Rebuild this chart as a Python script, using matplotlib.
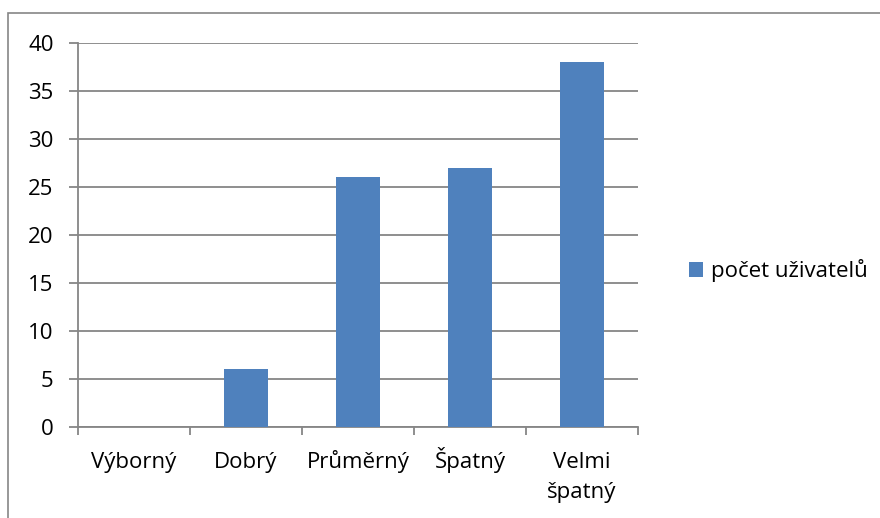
import matplotlib
matplotlib.use("Agg")
import matplotlib.pyplot as plt
from matplotlib.patches import Rectangle

categories = ["Výborný", "Dobrý", "Průměrný", "Špatný", "Velmi\nšpatný"]
values = [0, 6, 26, 27, 38]
series_name = "počet uživatelů"
yticks = [0, 5, 10, 15, 20, 25, 30, 35, 40]

plt.rcParams["font.family"] = ["Open Sans", "DejaVu Sans"]
FS = 16

fig = plt.figure(figsize=(8.8, 5.18), dpi=100)
ax = fig.add_axes([78 / 880, 1 - 427 / 518, (638 - 78) / 880, (427 - 43) / 518])

grid_col = "#868686"
x = list(range(len(categories)))
ax.bar(x, values, width=0.4, color="#4F81BD", label=series_name, zorder=3)

ax.set_xlim(-0.5, len(categories) - 0.5)
ax.set_ylim(0, 40)
ax.set_yticks(yticks)
ax.set_yticklabels([str(v) for v in yticks], fontsize=FS)
ax.yaxis.grid(True, color=grid_col, linewidth=1.3, zorder=0)

# category boundary ticks; labels drawn line by line on a shared baseline
ax.set_xticks([i - 0.5 for i in range(len(categories) + 1)])
ax.set_xticklabels([])
ax.tick_params(axis="x", length=6, width=1.3, color=grid_col)
ax.tick_params(axis="y", length=6.5, width=1.3, color=grid_col, pad=11)
for i, lab in zip(x, categories):
    for k, line in enumerate(lab.split("\n")):
        ax.text(i, -(41 + 30 * k) / 384, line, transform=ax.get_xaxis_transform(),
                ha="center", va="baseline", fontsize=FS)

for side in ["top", "right"]:
    ax.spines[side].set_visible(False)
for side in ["left", "bottom"]:
    ax.spines[side].set_color(grid_col)
    ax.spines[side].set_linewidth(1.3)

ax.legend(loc="center left", bbox_to_anchor=(669 / 880, 1 - 271 / 518),
          bbox_transform=fig.transFigure, frameon=False, fontsize=FS,
          handlelength=0.63, handleheight=0.63, handletextpad=0.37)

# outer chart border
fig.add_artist(Rectangle((8 / 880, -0.01), 1.0, 1 - 13 / 518 + 0.01,
                         transform=fig.transFigure, fill=False,
                         edgecolor=grid_col, linewidth=1.2))

fig.savefig("out.png", dpi=100)
